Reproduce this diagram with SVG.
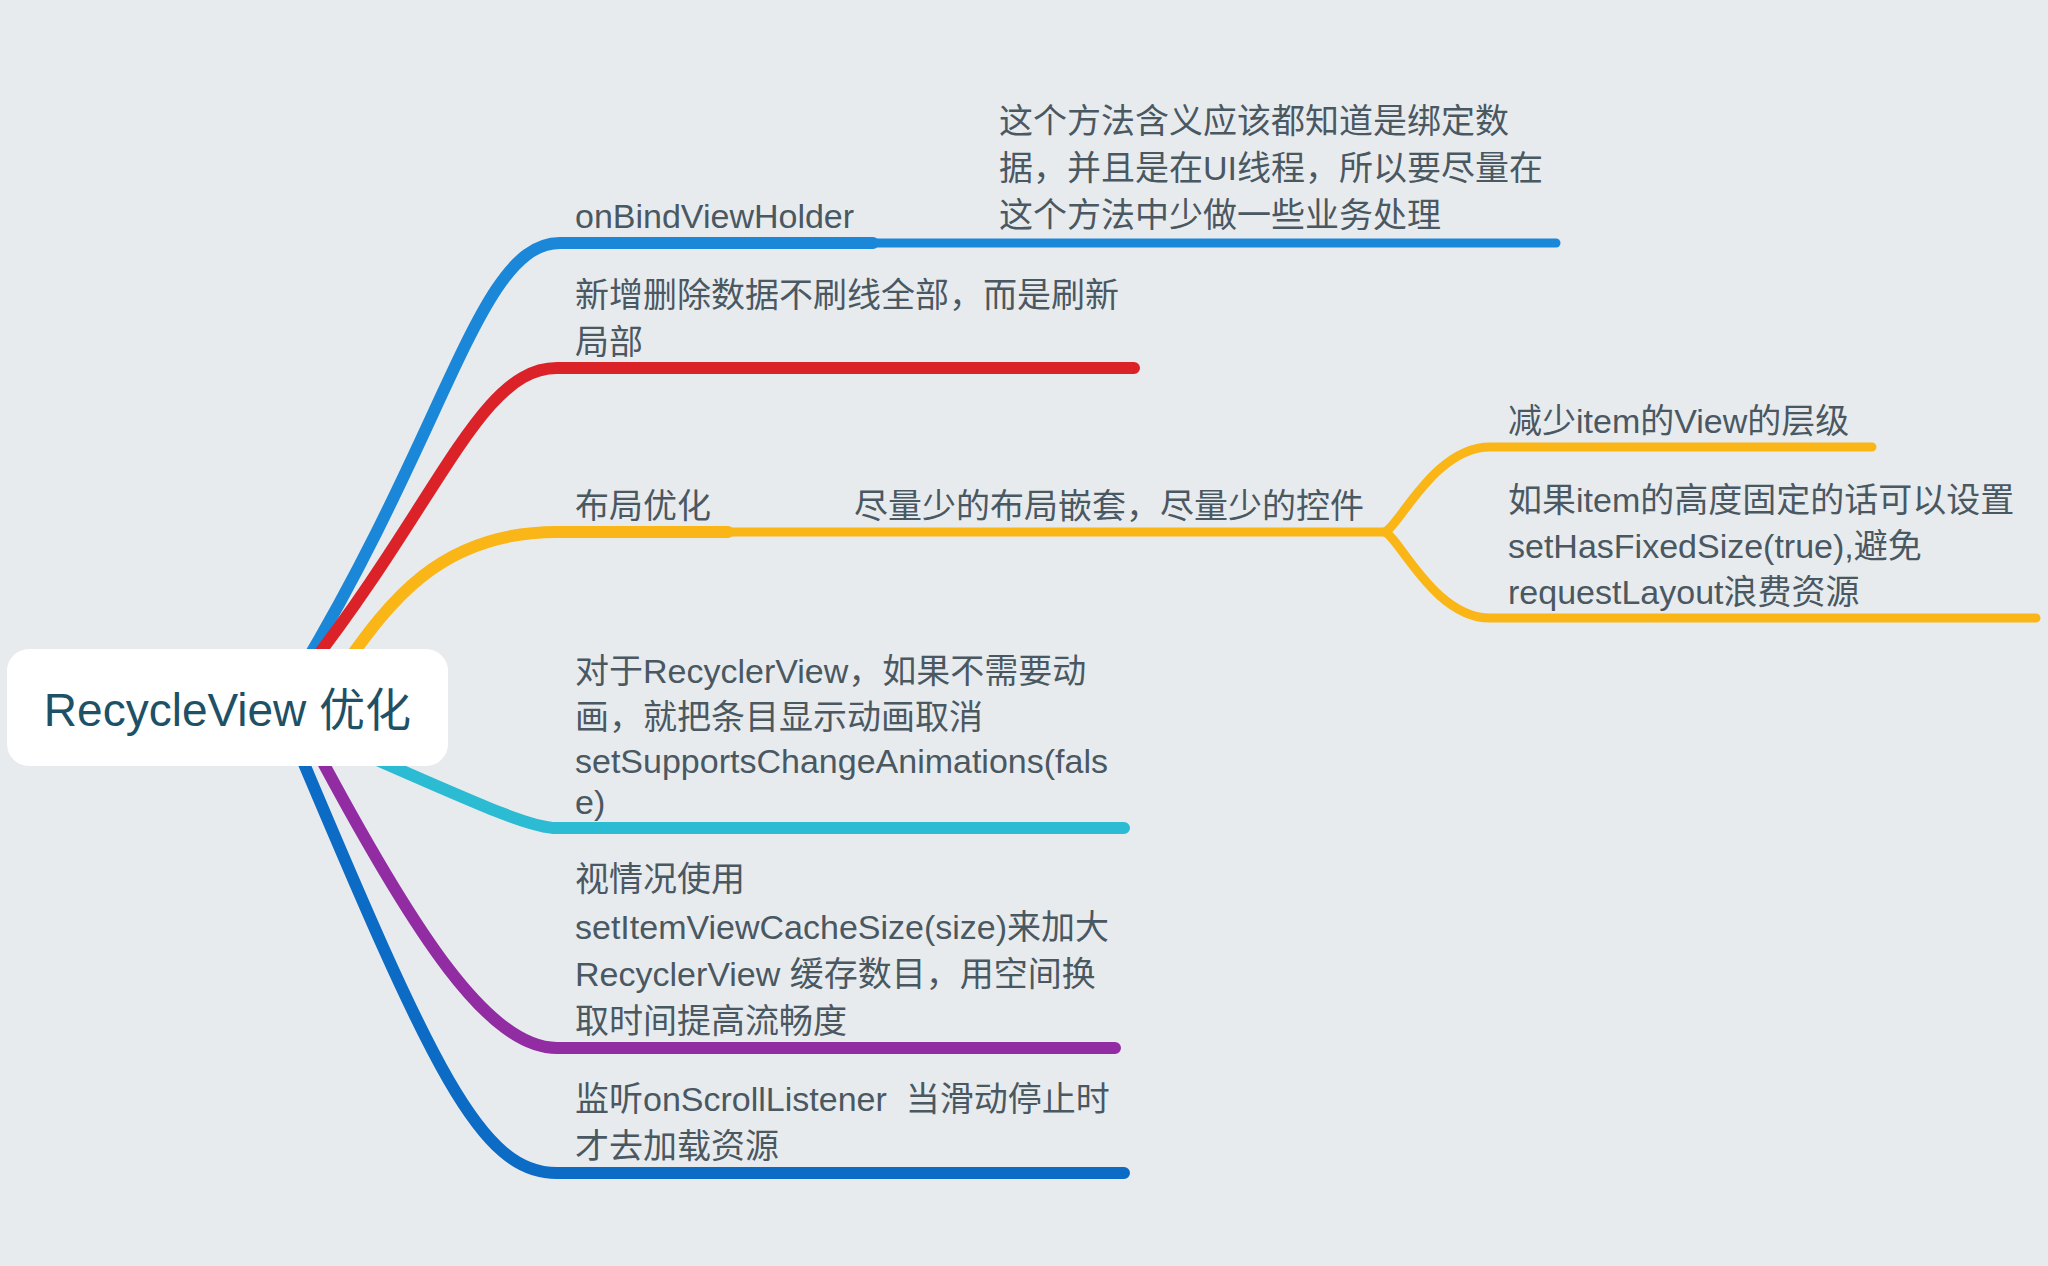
<svg xmlns="http://www.w3.org/2000/svg" width="2048" height="1266" viewBox="0 0 2048 1266">
<style>
.bg{fill:#e8ebee}
.c{fill:none;stroke-linecap:round;stroke-linejoin:round}
.l1{stroke-width:12}
.l2{stroke-width:9}
.t{font-family:'Liberation Sans','Noto Sans CJK SC',sans-serif;font-size:34px;fill:#4a5862}
.root{font-family:'Liberation Sans','Noto Sans CJK SC',sans-serif;font-size:46px;fill:#1e5166}
</style>
<rect class="bg" x="0" y="0" width="2048" height="1266"/>
<g id="connectors">
  <path class="c l1" stroke="#1b87d9" stroke-linecap="butt" d="M300,672 C450,422 480,243 560,243 L873,243"/>
  <path class="c l2" stroke="#1b87d9" d="M873,243 L1556,243"/>
  <path class="c l1" stroke="#dc2229" d="M305,672 C440,500 480,368 557,368 L1134,368"/>
  <path class="c l1" stroke="#fab516" stroke-linecap="butt" d="M340,672 C389,602 440,532 557,532 L728,532"/>
  <path class="c l2" stroke="#fab516" d="M728,532 L1387,532"/>
  <path class="c l2" stroke="#fab516" d="M1385,532 C1400,525 1435,447 1490,447 L1872,447"/>
  <path class="c l2" stroke="#fab516" d="M1385,532 C1400,539 1435,618 1490,618 L2036,618"/>
  <path class="c l1" stroke="#2bbbd3" d="M350,748 C480,805 530,828 557,828 L1124,828"/>
  <path class="c l1" stroke="#922ca3" d="M311,740 C417,940 490,1048 557,1048 L1115,1048"/>
  <path class="c l1" stroke="#0b6bc5" d="M294,740 C433,1070 480,1173 557,1173 L1124,1173"/>
</g>
<g id="root">
  <rect x="7" y="649" width="441" height="117" rx="22" fill="#ffffff"/>
  <text class="root" x="227.5" y="726" text-anchor="middle">RecycleView 优化</text>
</g>
<g id="node-onbind">
  <text class="t" x="575" y="228">onBindViewHolder</text>
</g>
<g id="node-onbind-desc">
  <text class="t" x="999" y="133">这个方法含义应该都知道是绑定数</text>
  <text class="t" x="999" y="180">据，并且是在UI线程，所以要尽量在</text>
  <text class="t" x="999" y="227">这个方法中少做一些业务处理</text>
</g>
<g id="node-partial-refresh">
  <text class="t" x="575" y="307">新增删除数据不刷线全部，而是刷新</text>
  <text class="t" x="575" y="354">局部</text>
</g>
<g id="node-layout">
  <text class="t" x="575" y="518">布局优化</text>
</g>
<g id="node-layout-nesting">
  <text class="t" x="854" y="518">尽量少的布局嵌套，尽量少的控件</text>
</g>
<g id="node-item-level">
  <text class="t" x="1508" y="433">减少item的View的层级</text>
</g>
<g id="node-fixed-size">
  <text class="t" x="1508" y="512">如果item的高度固定的话可以设置</text>
  <text class="t" x="1508" y="558">setHasFixedSize(true),避免</text>
  <text class="t" x="1508" y="604">requestLayout浪费资源</text>
</g>
<g id="node-animations">
  <text class="t" x="575" y="683">对于RecyclerView，如果不需要动</text>
  <text class="t" x="575" y="729">画，就把条目显示动画取消</text>
  <text class="t" x="575" y="773">setSupportsChangeAnimations(fals</text>
  <text class="t" x="575" y="814">e)</text>
</g>
<g id="node-cache">
  <text class="t" x="575" y="891">视情况使用</text>
  <text class="t" x="575" y="939">setItemViewCacheSize(size)来加大</text>
  <text class="t" x="575" y="986">RecyclerView 缓存数目，用空间换</text>
  <text class="t" x="575" y="1033">取时间提高流畅度</text>
</g>
<g id="node-scroll">
  <text class="t" x="575" y="1111" xml:space="preserve">监听onScrollListener  当滑动停止时</text>
  <text class="t" x="575" y="1158">才去加载资源</text>
</g>
</svg>
